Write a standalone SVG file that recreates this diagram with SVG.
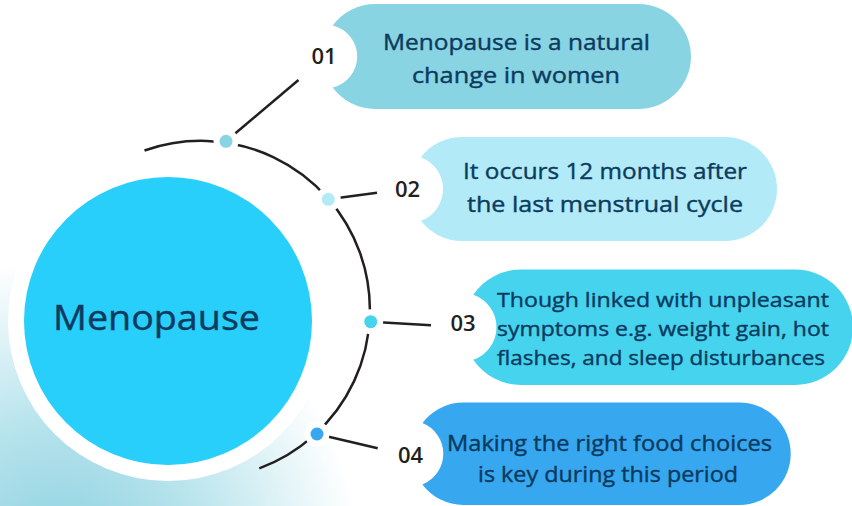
<svg xmlns="http://www.w3.org/2000/svg" width="852" height="506" viewBox="0 0 852 506">
  <defs>
    <radialGradient id="bg" cx="60" cy="560" r="300" gradientUnits="userSpaceOnUse">
      <stop offset="0" stop-color="#8bd0e0"/>
      <stop offset="0.45" stop-color="#b6e3ec"/>
      <stop offset="1" stop-color="#ffffff"/>
    </radialGradient>
    <style>
      .txt { font-family: "Open Sans", "Liberation Sans", sans-serif; font-weight: 400; fill: #0c3b5f; stroke: #0c3b5f; stroke-width: 0.4; text-anchor: middle; }
      .num { font-family: "Open Sans", "Liberation Sans", sans-serif; font-weight: 600; font-size: 22px; fill: #231f20; text-anchor: middle; }
      .line { fill: none; stroke: #231f20; stroke-width: 2.5; stroke-linecap: butt; }
      .dot { stroke: #ffffff; stroke-width: 12; paint-order: stroke; }
    </style>
  </defs>

  <rect x="0" y="0" width="852" height="506" fill="#ffffff"/>
  <rect x="0" y="0" width="852" height="506" fill="url(#bg)"/>

  <g id="center">
    <circle cx="168" cy="321" r="160" fill="#ffffff"/>
    <circle cx="168" cy="321" r="144" fill="#29cffb"/>
    <text class="txt" x="156.5" y="330" font-size="35" stroke-width="0.6" textLength="207" lengthAdjust="spacingAndGlyphs">Menopause</text>
  </g>

  <g id="connectors">
    <path class="line" d="M144.5,150.5 A169,169 0 0 1 259.3,468.4" stroke-width="3"/>
    <line class="line" x1="226" y1="141.3" x2="298.5" y2="80"/>
    <line class="line" x1="328.3" y1="199.3" x2="377" y2="192.7"/>
    <line class="line" x1="370.7" y1="321.7" x2="431" y2="325.3"/>
    <line class="line" x1="317" y1="434" x2="377.7" y2="448.3"/>
    <circle class="dot" cx="226" cy="141.3" r="6.5" fill="#89d4e2"/>
    <circle class="dot" cx="328.3" cy="199.3" r="6.5" fill="#b2ebf7"/>
    <circle class="dot" cx="370.7" cy="321.7" r="6.5" fill="#46d3ee"/>
    <circle class="dot" cx="317" cy="434" r="6.5" fill="#37a8ef"/>
  </g>

  <g id="node1">
    <path d="M332.7,25.4 A52.5,52.5 0 0 1 375,4 H638.5 A52.5,52.5 0 0 1 638.5,109 H375 A52.5,52.5 0 0 1 332.7,87.6 A32,32 0 0 0 332.7,25.4 Z" fill="#89d4e2"/>
    <text class="num" x="324" y="64">01</text>
    <text class="txt" x="516.5" y="50" font-size="22" textLength="267" lengthAdjust="spacingAndGlyphs">Menopause is a natural</text>
    <text class="txt" x="516" y="83" font-size="22" textLength="208" lengthAdjust="spacingAndGlyphs">change in women</text>
  </g>

  <g id="node2">
    <path d="M420.9,157.15 A52,52 0 0 1 462,137 H725 A52,52 0 0 1 725,241 H462 A52,52 0 0 1 420.9,220.85 A34,34 0 0 0 420.9,157.15 Z" fill="#b2ebf7"/>
    <text class="num" x="407.5" y="196.7">02</text>
    <text class="txt" x="605" y="179.3" font-size="22" textLength="284" lengthAdjust="spacingAndGlyphs">It occurs 12 months after</text>
    <text class="txt" x="605" y="211.7" font-size="22" textLength="276" lengthAdjust="spacingAndGlyphs">the last menstrual cycle</text>
  </g>

  <g id="node3">
    <path d="M473.3,294.66 A57.75,57.75 0 0 1 521,269.5 H795.25 A57.75,57.75 0 0 1 795.25,385 H521 A57.75,57.75 0 0 1 473.3,359.84 A34.5,34.5 0 0 0 473.3,294.66 Z" fill="#46d3ee"/>
    <text class="num" x="463" y="331">03</text>
    <text class="txt" x="663" y="306.7" font-size="20.5" textLength="332" lengthAdjust="spacingAndGlyphs">Though linked with unpleasant</text>
    <text class="txt" x="663" y="336" font-size="20.5" textLength="332" lengthAdjust="spacingAndGlyphs">symptoms e.g. weight gain, hot</text>
    <text class="txt" x="661" y="365" font-size="20.5" textLength="328" lengthAdjust="spacingAndGlyphs">flashes, and sleep disturbances</text>
  </g>

  <g id="node4">
    <path d="M422.45,423.08 A51.25,51.25 0 0 1 463.5,402.5 H739.45 A51.25,51.25 0 0 1 739.45,505 H463.5 A51.25,51.25 0 0 1 422.45,484.42 A33,33 0 0 0 422.45,423.08 Z" fill="#37a8ef"/>
    <text class="num" x="410.5" y="463">04</text>
    <text class="txt" x="609.5" y="450.7" font-size="21" textLength="325" lengthAdjust="spacingAndGlyphs">Making the right food choices</text>
    <text class="txt" x="608" y="481.7" font-size="21" textLength="260" lengthAdjust="spacingAndGlyphs">is key during this period</text>
  </g>
</svg>
